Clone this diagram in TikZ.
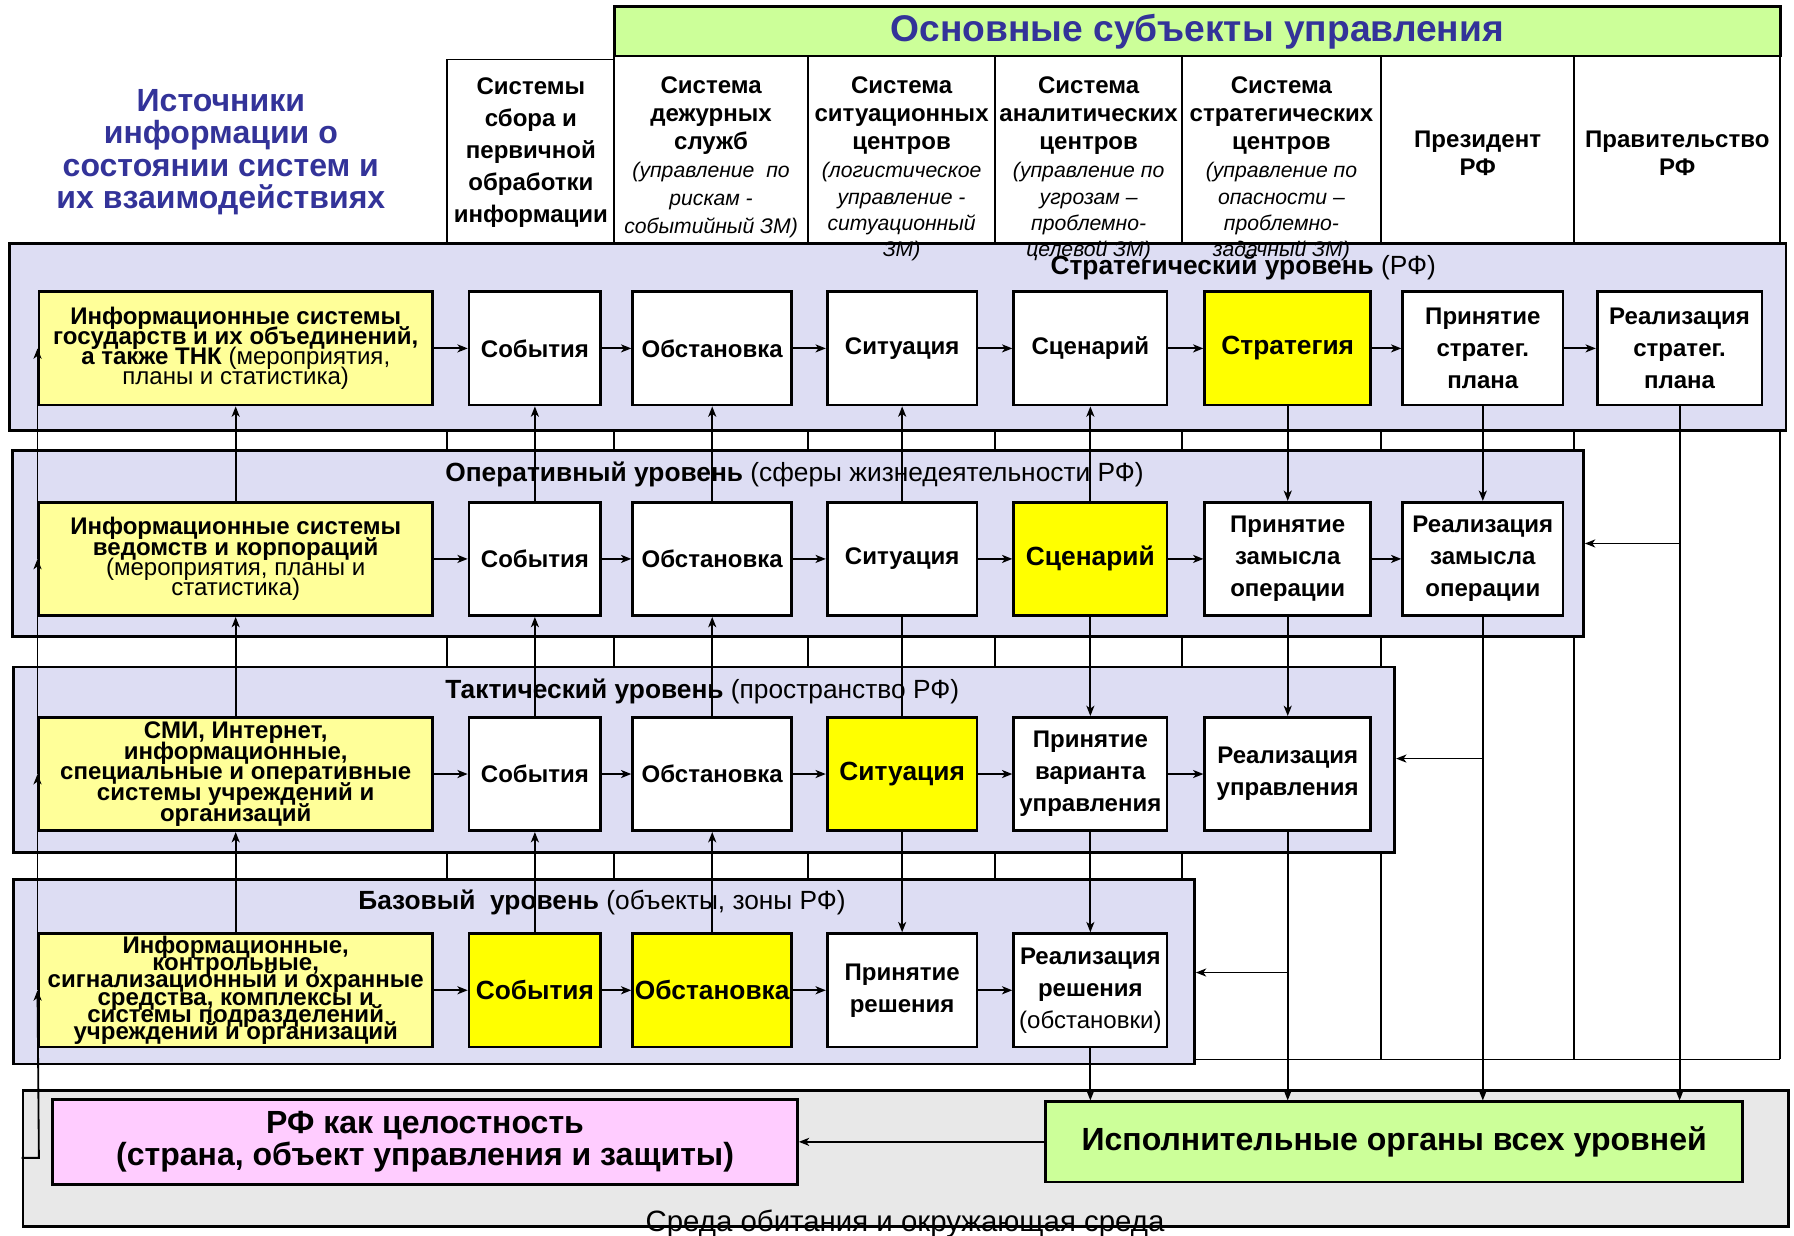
\documentclass[tikz,border=0pt]{standalone}
\usepackage{fontspec}
\setmainfont{Liberation Sans}
\usetikzlibrary{arrows.meta,positioning}
\definecolor{lvlfill}{HTML}{DDDDF3}
\definecolor{srcyel}{HTML}{FFFF99}
\definecolor{hiyel}{HTML}{FFFF00}
\definecolor{pinkfill}{HTML}{FFCCFF}
\definecolor{greenfill}{HTML}{CCFF99}
\definecolor{envfill}{HTML}{E8E8E8}
\definecolor{titleblue}{HTML}{333399}
\newcommand\tightlines{\lineskiplimit-100pt\lineskip0pt\relax}
\newcommand\hnote{\mdseries\itshape\fontsize{18.5}{24}\selectfont}
\begin{document}
\begin{tikzpicture}[
  x=1pt, y=-1pt,
  font=\fontsize{21}{25}\selectfont,
  >={Stealth[length=9pt,width=7pt,inset=2.5pt]},
  stagebox/.style={draw, line width=2.4pt, align=center, minimum height=99pt, inner sep=1pt, font=\bfseries\fontsize{21}{28}\selectfont},
  wcell/.style={stagebox, fill=white},
  ycell/.style={stagebox, fill=hiyel, font=\bfseries\fontsize{23}{28}\selectfont},
  srcbox/.style={stagebox, fill=srcyel, minimum width=344pt, font=\fontsize{21}{17.7}\selectfont\tightlines},
  lvlframe/.style={draw, line width=2.4pt, fill=lvlfill, inner sep=0pt},
  colhead/.style={align=center, anchor=north, inner sep=0pt, font=\bfseries\fontsize{21}{24.5}\selectfont},
  lvltitle/.style={anchor=west, inner sep=0pt, font=\fontsize{23}{25}\selectfont},
  gridln/.style={line width=1.6pt},
  arr/.style={->, line width=1.6pt}
]
\useasboundingbox (0,0) rectangle (1568,1080);
\draw[gridln] (391,926) -- (391,52) -- (537,52);
\foreach \gx in {537,706,870,1033,1207,1376,1556}
  \draw[gridln] (\gx,49) -- (\gx,926);
\draw[gridln] (391,926) -- (1556,926);

\node[lvlframe, fill=envfill, minimum width=1543pt, minimum height=119pt] (fEnv) at (791.5,1012.5) {};
\node[lvlframe, minimum width=1553pt, minimum height=163pt] (fStr) at (784.5,294.5) {};
\node[lvlframe, minimum width=1373pt, minimum height=162pt] (fOp) at (697.5,475) {};
\node[lvlframe, minimum width=1207pt, minimum height=162pt] (fTac) at (615.5,664) {};
\node[lvlframe, minimum width=1032pt, minimum height=161pt] (fBas) at (528,849.5) {};

\node[draw, line width=2.4pt, fill=greenfill, minimum width=1019pt, minimum height=43pt, text=titleblue, font=\bfseries\fontsize{32.5}{36}\selectfont] (hdr) at (1046.5,27.5) {Основные субъекты управления};
\node[align=center, text=titleblue, font=\bfseries\fontsize{28}{28}\selectfont] (srcTitle) at (193,133) {Источники\\информации о\\состоянии систем и\\их взаимодействиях};

\node[colhead, font=\bfseries\fontsize{21}{28}\selectfont] (c1) at (464,68) {Системы\\сбора и\\первичной\\обработки\\информации};
\node[colhead] (c2) at (621.5,67) {Система\\дежурных\\служб\\{\hnote (управление~ по}\\{\hnote рискам -}\\{\hnote событийный ЗМ)}};
\node[colhead] (c3) at (788,67) {Система\\ситуационных\\центров\\{\hnote (логистическое}\\[-1.5pt]{\hnote управление -}\\[-1.5pt]{\hnote ситуационный}\\[-1.5pt]{\hnote ЗМ)}};
\node[colhead] (c4) at (951.5,67) {Система\\аналитических\\центров\\{\hnote (управление по}\\[-1.5pt]{\hnote угрозам –}\\[-1.5pt]{\hnote проблемно-}\\[-1.5pt]{\hnote целевой ЗМ)}};
\node[colhead] (c5) at (1120,67) {Система\\стратегических\\центров\\{\hnote (управление по}\\[-1.5pt]{\hnote опасности –}\\[-1.5pt]{\hnote проблемно-}\\[-1.5pt]{\hnote задачный ЗМ)}};
\node[colhead] (c6) at (1291.5,114) {Президент\\РФ};
\node[colhead] (c7) at (1466,114) {Правительство\\РФ};

\node[lvltitle] (lStr) at (918,234) {\textbf{Стратегический уровень} (РФ)};
\node[lvltitle] (lOp) at (389,415) {\textbf{Оперативный уровень} (сферы жизнедеятельности РФ)};
\node[lvltitle] (lTac) at (389,604) {\textbf{Тактический уровень} (пространство РФ)};
\node[lvltitle] (lBas) at (313,789) {\textbf{Базовый\ \ уровень} (объекты, зоны РФ)};

\node[srcbox] (sSrc) at (206,304.5) {\textbf{Информационные системы}\\\textbf{государств и их объединений,}\\\textbf{а также ТНК} (мероприятия,\\планы и статистика)};
\node[wcell, minimum width=115pt] (sSob) at (467.5,304.5) {События};
\node[wcell, minimum width=139pt] (sObs) at (622.5,304.5) {Обстановка};
\node[wcell, minimum width=131pt] (sSit) at (788.5,304.5) {Ситуация};
\node[wcell, minimum width=134pt] (sScn) at (953,304.5) {Сценарий};
\node[ycell, minimum width=145pt] (sStr) at (1125.5,304.5) {Стратегия};
\node[wcell, minimum width=140pt] (sPr) at (1296,304.5) {Принятие\\стратег.\\плана};
\node[wcell, minimum width=144pt] (sRe) at (1468,304.5) {Реализация\\стратег.\\плана};

\node[srcbox] (oSrc) at (206,488.5) {\textbf{Информационные системы}\\\textbf{ведомств и корпораций}\\(мероприятия, планы и\\статистика)};
\node[wcell, minimum width=115pt] (oSob) at (467.5,488.5) {События};
\node[wcell, minimum width=139pt] (oObs) at (622.5,488.5) {Обстановка};
\node[wcell, minimum width=131pt] (oSit) at (788.5,488.5) {Ситуация};
\node[ycell, minimum width=134pt] (oScn) at (953,488.5) {Сценарий};
\node[wcell, minimum width=145pt] (oPr) at (1125.5,488.5) {Принятие\\замысла\\операции};
\node[wcell, minimum width=140pt] (oRe) at (1296,488.5) {Реализация\\замысла\\операции};

\node[srcbox, font=\bfseries\fontsize{21}{18}\selectfont\tightlines] (tSrc) at (206,676.5) {СМИ, Интернет,\\информационные,\\специальные и оперативные\\системы учреждений и\\организаций};
\node[wcell, minimum width=115pt] (tSob) at (467.5,676.5) {События};
\node[wcell, minimum width=139pt] (tObs) at (622.5,676.5) {Обстановка};
\node[ycell, minimum width=131pt] (tSit) at (788.5,676.5) {Ситуация};
\node[wcell, minimum width=134pt] (tPr) at (953,676.5) {Принятие\\варианта\\управления};
\node[wcell, minimum width=145pt] (tRe) at (1125.5,676.5) {Реализация\\управления};

\node[srcbox, font=\bfseries\fontsize{21}{15}\selectfont\tightlines] (bSrc) at (206,865.5) {Информационные,\\контрольные,\\сигнализационный и охранные\\средства, комплексы и\\системы подразделений\\учреждений и организаций};
\node[ycell, minimum width=115pt] (bSob) at (467.5,865.5) {События};
\node[ycell, minimum width=139pt] (bObs) at (622.5,865.5) {Обстановка};
\node[wcell, minimum width=131pt] (bPr) at (788.5,865.5) {Принятие\\решения};
\node[wcell, minimum width=134pt] (bRe) at (953,865.5) {Реализация\\решения\\{\mdseries(обстановки)}};

\node[draw, line width=2.4pt, fill=pinkfill, minimum width=651pt, minimum height=74pt, align=center, font=\bfseries\fontsize{28}{28}\selectfont] (rf) at (371.5,998) {РФ как целостность\\(страна, объект управления и защиты)};
\node[draw, line width=2.4pt, fill=greenfill, minimum width=609pt, minimum height=70pt, font=\bfseries\fontsize{28}{30}\selectfont] (ex) at (1218.5,998) {Исполнительные органы всех уровней};
\node[inner sep=0pt, font=\fontsize{25.7}{28}\selectfont] (envT) at (791,1070) {Среда обитания и окружающая среда};

\draw[arr] (sSrc) -- (sSob);
\draw[arr] (sSob) -- (sObs);
\draw[arr] (sObs) -- (sSit);
\draw[arr] (sSit) -- (sScn);
\draw[arr] (sScn) -- (sStr);
\draw[arr] (sStr) -- (sPr);
\draw[arr] (sPr) -- (sRe);
\draw[arr] (oSrc) -- (oSob);
\draw[arr] (oSob) -- (oObs);
\draw[arr] (oObs) -- (oSit);
\draw[arr] (oSit) -- (oScn);
\draw[arr] (oScn) -- (oPr);
\draw[arr] (oPr) -- (oRe);
\draw[arr] (tSrc) -- (tSob);
\draw[arr] (tSob) -- (tObs);
\draw[arr] (tObs) -- (tSit);
\draw[arr] (tSit) -- (tPr);
\draw[arr] (tPr) -- (tRe);
\draw[arr] (bSrc) -- (bSob);
\draw[arr] (bSob) -- (bObs);
\draw[arr] (bObs) -- (bPr);
\draw[arr] (bPr) -- (bRe);

\draw[arr] (bSrc) -- (tSrc);
\draw[arr] (tSrc) -- (oSrc);
\draw[arr] (oSrc) -- (sSrc);
\draw[arr] (bSob) -- (tSob);
\draw[arr] (tSob) -- (oSob);
\draw[arr] (oSob) -- (sSob);
\draw[arr] (bObs) -- (tObs);
\draw[arr] (tObs) -- (oObs);
\draw[arr] (oObs) -- (sObs);
\draw[line width=1.6pt] (tSit) -- (oSit);
\draw[arr] (oSit) -- (sSit);
\draw[arr] (tSit) -- (bPr);
\draw[arr] (oScn) -- (sScn);
\draw[arr] (oScn) -- (tPr);
\draw[arr] (tPr) -- (bRe);
\draw[arr] (sStr) -- (oPr);
\draw[arr] (oPr) -- (tRe);
\draw[arr] (sPr) -- (oRe);

\draw[arr] (bRe.south) -- (bRe.south |- ex.north);
\draw[arr] (tRe.south) -- (tRe.south |- ex.north);
\draw[arr] (oRe.south) -- (oRe.south |- ex.north);
\draw[arr] (sRe.south) -- (sRe.south |- ex.north);
\coordinate (jBas) at (1125.5,850);
\coordinate (jTac) at (1296,663);
\coordinate (jOp) at (1468,475);
\draw[arr] (jBas) -- (jBas -| fBas.east);
\draw[arr] (jTac) -- (jTac -| fTac.east);
\draw[arr] (jOp) -- (jOp -| fOp.east);
\draw[arr] (ex) -- (rf);

\coordinate (fb) at (34,1012);
\draw[arr] (fEnv.west |- fb) -- (fb) -- (bSrc.west);
\draw[arr] (bSrc.west) -- (tSrc.west);
\draw[arr] (tSrc.west) -- (oSrc.west);
\draw[arr] (oSrc.west) -- (sSrc.west);
\end{tikzpicture}
\end{document}
